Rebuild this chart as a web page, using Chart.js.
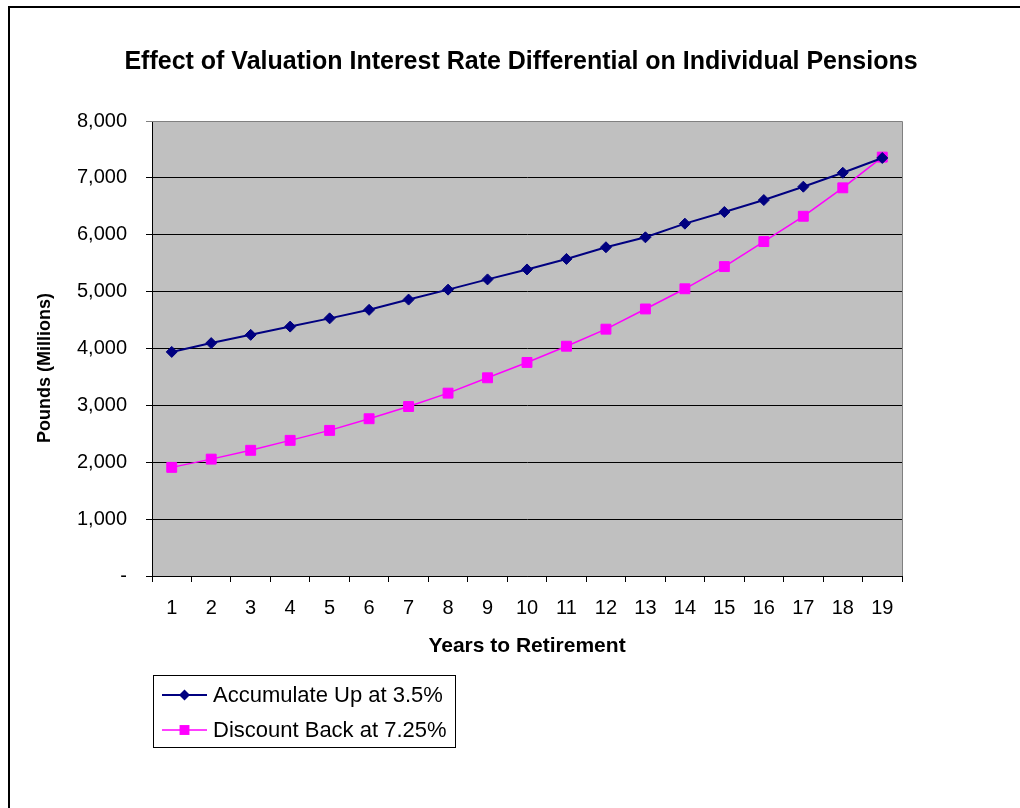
<!DOCTYPE html>
<html>
<head>
<meta charset="utf-8">
<script src="https://cdn.jsdelivr.net/npm/chart.js@4.4.1/dist/chart.umd.min.js"></script>
<style>
  html, body { margin: 0; padding: 0; background: #fff; }
  #wrap { width: 1020px; height: 808px; position: relative; }
</style>
</head>
<body>
<div id="wrap"><canvas id="c" width="1020" height="808"></canvas></div>
<script>
const chartTitle = 'Effect of Valuation Interest Rate Differential on Individual Pensions';
const xAxisTitle = 'Years to Retirement';
const yAxisTitle = 'Pounds (Millions)';
const years = ['1','2','3','4','5','6','7','8','9','10','11','12','13','14','15','16','17','18','19'];
const seriesNames = ['Accumulate Up at 3.5%', 'Discount Back at 7.25%'];
const accumulateUp = [3940, 4095, 4240, 4385, 4530, 4680, 4860, 5035, 5215, 5390, 5575, 5780, 5955, 6195, 6400, 6610, 6845, 7090, 7350];
const discountBack = [1910, 2055, 2210, 2385, 2560, 2765, 2980, 3215, 3485, 3755, 4040, 4340, 4695, 5050, 5440, 5880, 6325, 6825, 7365];
const yTickLabels = ['-', '1,000', '2,000', '3,000', '4,000', '5,000', '6,000', '7,000', '8,000'];

const FONT = 'Liberation Sans, Arial, Helvetica, sans-serif';

const framePlugin = {
  id: 'frame',
  beforeDraw(chart) {
    const ctx = chart.ctx, a = chart.chartArea;
    ctx.save();
    ctx.fillStyle = '#fff';
    ctx.fillRect(0, 0, chart.width, chart.height);
    ctx.strokeStyle = '#000';
    ctx.lineWidth = 2;
    ctx.strokeRect(9, 7, chart.width + 20, chart.height + 20);
    ctx.fillStyle = '#C0C0C0';
    ctx.fillRect(a.left, a.top, a.right - a.left, a.bottom - a.top);
    ctx.restore();
  },
  beforeDatasetsDraw(chart) {
    const ctx = chart.ctx, a = chart.chartArea;
    ctx.save();
    ctx.strokeStyle = '#808080';
    ctx.lineWidth = 1;
    ctx.beginPath();
    ctx.moveTo(a.left, a.top + 0.5);
    ctx.lineTo(Math.round(a.right) + 0.5, a.top + 0.5);
    ctx.lineTo(Math.round(a.right) + 0.5, a.bottom);
    ctx.stroke();
    ctx.restore();
  },
  afterDraw(chart) {
    const ctx = chart.ctx;
    // rotated y-axis title
    ctx.save();
    ctx.translate(45, 368);
    ctx.rotate(-Math.PI / 2);
    ctx.fillStyle = '#000';
    ctx.font = 'bold 18px ' + FONT;
    ctx.textAlign = 'center';
    ctx.textBaseline = 'middle';
    ctx.fillText(yAxisTitle, 0, 0);
    ctx.restore();

    // legend box
    const bx = 153.5, by = 675.5, bw = 302, bh = 72;
    ctx.save();
    ctx.fillStyle = '#fff';
    ctx.fillRect(bx, by, bw, bh);
    ctx.strokeStyle = '#000';
    ctx.lineWidth = 1;
    ctx.strokeRect(bx, by, bw, bh);
    const rows = [695, 730];
    chart.data.datasets.forEach((ds, i) => {
      const y = rows[i];
      ctx.strokeStyle = ds.borderColor;
      ctx.lineWidth = ds.borderWidth;
      ctx.beginPath();
      ctx.moveTo(162, y);
      ctx.lineTo(207, y);
      ctx.stroke();
      ctx.fillStyle = ds.pointBackgroundColor;
      ctx.beginPath();
      if (ds.pointStyle === 'rectRot') {
        const r = ds.pointRadius;
        ctx.moveTo(184.5, y - r); ctx.lineTo(184.5 + r, y); ctx.lineTo(184.5, y + r); ctx.lineTo(184.5 - r, y); ctx.closePath();
      } else {
        const s = ds.pointRadius * Math.SQRT1_2;
        ctx.rect(184.5 - s, y - s, 2 * s, 2 * s);
      }
      ctx.fill();
      ctx.fillStyle = '#000';
      ctx.font = '22px ' + FONT;
      ctx.textAlign = 'left';
      ctx.textBaseline = 'middle';
      ctx.fillText(ds.label, 213, y + 1);
    });
    ctx.restore();
  }
};

new Chart(document.getElementById('c'), {
  type: 'line',
  data: {
    labels: years,
    datasets: [
      {
        label: seriesNames[0],
        data: accumulateUp,
        borderColor: '#000080',
        backgroundColor: '#000080',
        pointBackgroundColor: '#000080',
        pointBorderColor: '#000080',
        borderWidth: 2,
        pointStyle: 'rectRot',
        pointRadius: 5.5,
        pointBorderWidth: 1,
        tension: 0,
        fill: false
      },
      {
        label: seriesNames[1],
        data: discountBack,
        borderColor: '#FF00FF',
        backgroundColor: '#FF00FF',
        pointBackgroundColor: '#FF00FF',
        pointBorderColor: '#FF00FF',
        borderWidth: 1.5,
        pointStyle: 'rect',
        pointRadius: 7,
        pointBorderWidth: 1,
        tension: 0,
        fill: false
      }
    ]
  },
  options: {
    responsive: false,
    animation: false,
    devicePixelRatio: 1,
    layout: { padding: { left: 22, right: 0, top: 0, bottom: 0 } },
    plugins: {
      legend: { display: false },
      tooltip: { enabled: false },
      title: {
        display: true,
        text: chartTitle,
        color: '#000',
        font: { family: FONT, size: 25, weight: 'bold', lineHeight: 1.2 },
        padding: { top: 47, bottom: 44 }
      }
    },
    scales: {
      x: {
        type: 'category',
        offset: true,
        grid: { display: true, drawOnChartArea: false, drawTicks: true, tickLength: 6, offset: true, color: '#000', lineWidth: 1 },
        border: { display: true, color: '#000', width: 1 },
        ticks: { color: '#000', font: { family: FONT, size: 20 }, padding: 14, maxRotation: 0, autoSkip: false },
        title: {
          display: true,
          text: xAxisTitle,
          color: '#000',
          font: { family: FONT, size: 21, weight: 'bold', lineHeight: 1.2 },
          padding: { top: 0, bottom: 149 }
        },
        afterFit(s) { s.height = 232; }
      },
      y: {
        min: 0,
        max: 8000,
        ticks: {
          stepSize: 1000,
          color: '#000',
          font: { family: FONT, size: 20 },
          padding: 19,
          callback: (v, i) => yTickLabels[i]
        },
        grid: {
          color: (c) => (c.tick && c.tick.value === 8000 ? '#808080' : '#000'),
          lineWidth: 1,
          tickLength: 6,
          drawTicks: true
        },
        border: { display: true, color: '#000', width: 1 },
        afterFit(s) { s.width = 130; }
      },
      y2: {
        position: 'right',
        display: true,
        grid: { display: false, drawTicks: false },
        border: { display: false },
        ticks: { display: false },
        afterFit(s) { s.width = 118; }
      }
    }
  },
  plugins: [framePlugin]
});
</script>
</body>
</html>
